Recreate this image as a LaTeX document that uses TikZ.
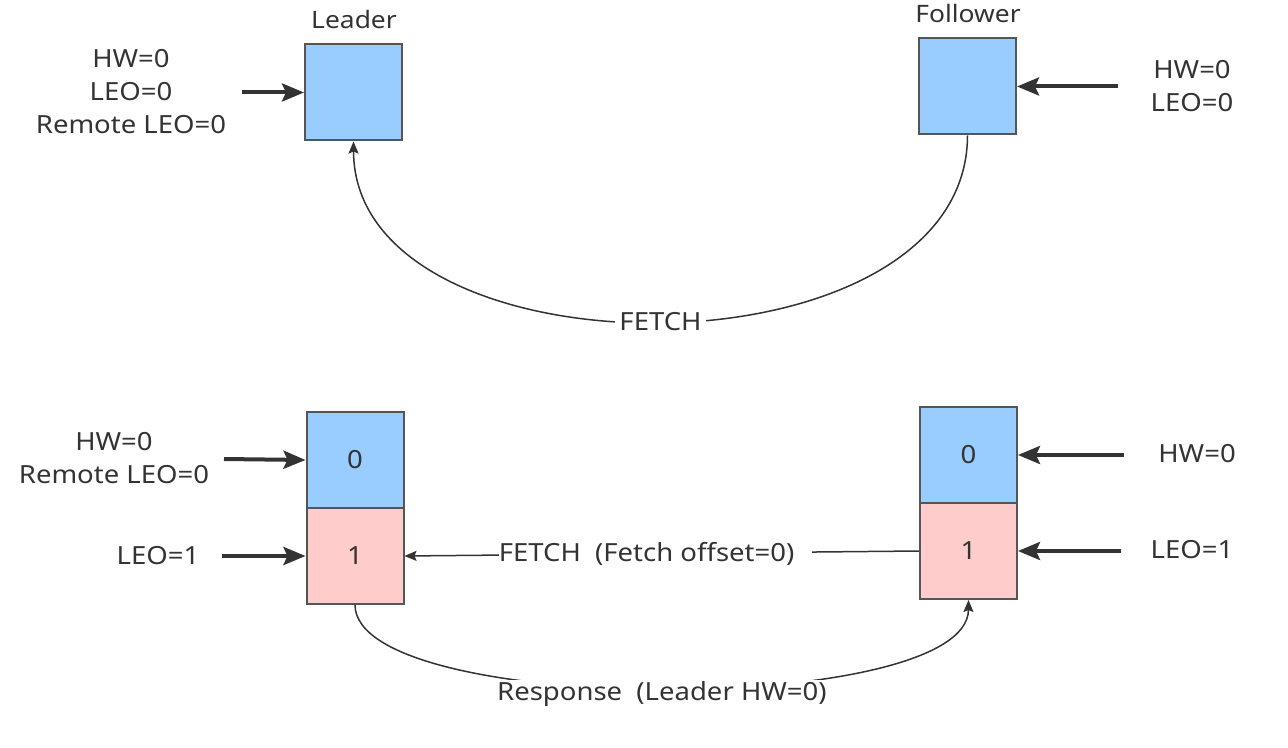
\documentclass[tikz,border=0pt]{standalone}
\usepackage{fontspec}
\setmainfont[FakeStretch=1.1]{Noto Sans}
\usetikzlibrary{arrows.meta}
\definecolor{txt}{HTML}{333333}
\definecolor{bord}{HTML}{555555}
\definecolor{blu}{HTML}{99CCFF}
\definecolor{pnk}{HTML}{FFCCCC}
\definecolor{ln}{HTML}{333333}
\begin{document}
\begin{tikzpicture}[x=0.5pt,y=-0.5pt,
  box/.style={draw=bord, line width=1pt, minimum width=48.5pt, minimum height=48pt, inner sep=0pt, text=txt, font=\fontsize{12.5}{16.5}\selectfont},
  bluebox/.style={box, fill=blu},
  pinkbox/.style={box, fill=pnk},
  lbl/.style={text=txt, align=center, font=\fontsize{12.5}{16.5}\selectfont, inner sep=1pt},
  title/.style={text=txt, font=\fontsize{12}{14}\selectfont, inner sep=0pt},
  fatarrow/.style={draw=ln, line width=2pt, -{Stealth[length=11pt, width=9pt, inset=2pt]}},
  thinarrow/.style={draw=ln, line width=0.75pt, -{Stealth[length=6pt, width=5pt, inset=1pt]}},
  gaplbl/.style={lbl, fill=white, inner xsep=2pt, inner ysep=1pt}
]
\useasboundingbox (0,0) rectangle (1288,748);

% ---------- top ----------
\node[bluebox] (lead) at (353.5,92.5) {};
\node[title] (leadt) at (354,20) {Leader};
\node[bluebox] (fol) at (967.5,86.5) {};
\node[title] (folt) at (968,14) {Follower};

\node[lbl] (ltxt) at (131,92) {HW=0\\LEO=0\\Remote LEO=0};
\coordinate (la) at (242,92.5);
\draw[fatarrow] (la) -- (lead.west);

\node[lbl] (rtxt) at (1192,86) {HW=0\\LEO=0};
\coordinate (ra) at (1118,86.5);
\draw[fatarrow] (ra) -- (fol.east);

\draw[thinarrow] (fol.south) .. controls (967,383) and (354,383) .. (lead.south)
  node[pos=0.5, gaplbl] (fetch1) {FETCH};

% ---------- bottom ----------
\node[bluebox] (lb) at (355,460) {0};
\node[pinkbox] (lp) at (355,556) {1};
\node[bluebox] (fb) at (968.5,455) {0};
\node[pinkbox] (fp) at (968.5,551) {1};

\node[lbl] (lbt) at (114,458) {HW=0\\Remote LEO=0};
\coordinate (lba) at (224,459);
\draw[fatarrow] (lba) -- (lb.west);

\node[lbl] (lpt) at (158,556) {LEO=1};
\coordinate (lpa) at (222,556);
\draw[fatarrow] (lpa) -- (lp.west);

\node[lbl] (fbt) at (1197,454) {HW=0};
\coordinate (fba) at (1124,455);
\draw[fatarrow] (fba) -- (fb.east);

\node[lbl] (fpt) at (1192,550) {LEO=1};
\coordinate (fpa) at (1121,551);
\draw[fatarrow] (fpa) -- (fp.east);

\draw[thinarrow] (fp.west) -- (lp.east)
  node[pos=0.512, gaplbl, inner xsep=0pt] (fetch2) {FETCH\ \ (Fetch offset=0)\hspace*{9pt}};

\draw[thinarrow] (lp.south) .. controls (356,717) and (968,717) .. (fp.south)
  node[pos=0.5, gaplbl, inner xsep=3pt, yshift=-3pt] (resp) {Response\ \ (Leader HW=0)};
\end{tikzpicture}
\end{document}
